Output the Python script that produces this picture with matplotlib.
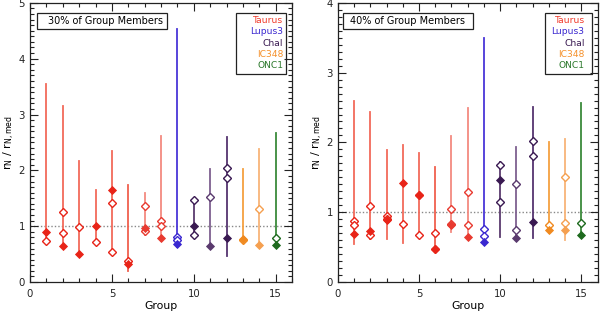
import matplotlib
matplotlib.use("Agg")
import matplotlib.pyplot as plt
from matplotlib.ticker import MultipleLocator

# ---------------- data ----------------
groups = list(range(1, 16))

hi30 = [3.54, 3.16, 2.17, 1.65, 2.35, 1.73, 1.59, 2.61, 4.53, 1.47, 2.02, 2.60, 2.03, 2.38, 2.67]
lo30 = [0.69, 0.61, 0.49, 0.68, 0.50, 0.19, 0.84, 0.73, 0.62, 0.84, 0.62, 0.46, 0.72, 0.63, 0.64]
filled30 = [0.89, 0.65, 0.51, 1.00, 1.64, 0.33, 0.96, 0.78, 0.68, 1.00, 0.65, 0.78, 0.77, 0.66, 0.66]
open30 = [[0.74], [1.26, 0.87], [0.98], [0.71], [1.42, 0.53], [0.37], [1.36, 0.91],
          [1.09, 1.00], [0.81, 0.75], [1.47, 0.84], [1.52], [2.04, 1.86], [0.75], [1.30], [0.78]]

hi40 = [2.60, 2.43, 1.89, 1.97, 1.85, 1.65, 2.09, 2.49, 3.50, 1.72, 1.93, 2.51, 2.01, 2.05, 2.57]
lo40 = [0.55, 0.62, 0.62, 0.56, 0.66, 0.45, 0.71, 0.62, 0.55, 0.65, 0.61, 0.63, 0.70, 0.60, 0.64]
filled40 = [0.69, 0.73, 0.89, 1.42, 1.25, 0.48, 0.82, 0.64, 0.58, 1.46, 0.63, 0.86, 0.74, 0.74, 0.67]
open40 = [[0.87, 0.82], [1.09, 0.68], [0.94, 0.91], [0.83], [1.25, 0.68], [0.70, 0.47], [1.05, 0.83],
          [1.29, 0.82], [0.76, 0.66], [1.67, 1.14], [1.40, 0.74], [2.02, 1.81], [0.82], [1.51, 0.85], [0.84]]

regions = ["Taurus", "Lupus3", "ChaI", "IC348", "ONC1"]
panel_titles = ["30% of Group Members", "40% of Group Members"]

# ---------------- styles ----------------
region_colors = ["#f03a2a", "#3a28d0", "#3a1a52", "#f5902a", "#2e7a2e"]
line_colors = ["#f26a5a", "#f26a5a", "#f26a5a", "#f26a5a", "#f26a5a", "#f0604e", "#f38a80", "#f38a80",
               "#4a36d8", "#5a3a6e", "#7e6090", "#553470", "#f5a040", "#f8b478", "#3a8a3a"]
mark_colors = ["#e82418", "#e82418", "#e82418", "#e82418", "#e82418", "#e82418", "#e83a30", "#e83a30",
               "#3a28d0", "#3a1a52", "#5a3a6e", "#3a1a52", "#f08a20", "#f5a050", "#1e6a1e"]

# per-panel box placements (axes fractions)
title_box = [(0.027, 0.523, 0.069), (0.019, 0.519, 0.046)]
legend_box = [(0.786, 0.977, 0.966), (0.796, 0.977, 0.950)]

fig = plt.figure(figsize=(6.0, 3.12), dpi=100)
axes = [fig.add_axes([0.050, 0.096, 0.437, 0.895]),
        fig.add_axes([0.563, 0.096, 0.433, 0.895])]

datasets = [(hi30, lo30, filled30, open30, 5), (hi40, lo40, filled40, open40, 4)]

for p, (ax, (hi, lo, filled, opn, ymax), title) in enumerate(zip(axes, datasets, panel_titles)):
    ax.axhline(1.0, color="#888888", lw=1.0, ls=(0, (1, 1.5)), zorder=1)
    for i, g in enumerate(groups):
        ax.plot([g, g], [lo[i], hi[i]], color=line_colors[i], lw=1.3, zorder=2)
        for v in opn[i]:
            ax.plot(g, v, marker="D", ms=4.0, mfc="white", mec=mark_colors[i], mew=1.0, zorder=3)
        ax.plot(g, filled[i], marker="D", ms=3.8, mfc=mark_colors[i], mec=mark_colors[i], mew=0.6, zorder=4)

    ax.set_xlim(0, 16)
    ax.set_ylim(0, ymax)
    ax.xaxis.set_major_locator(MultipleLocator(5))
    ax.xaxis.set_minor_locator(MultipleLocator(1))
    ax.yaxis.set_major_locator(MultipleLocator(1))
    ax.yaxis.set_minor_locator(MultipleLocator(0.1))
    ax.tick_params(which="both", direction="in", top=True, right=True, colors="#222222",
                   labelsize=7.3, width=0.8)
    ax.tick_params(which="major", length=6)
    ax.tick_params(which="minor", length=3)
    ax.tick_params(axis="x", pad=5)
    ax.tick_params(axis="y", pad=3.6)
    for s in ax.spines.values():
        s.set_linewidth(0.9)
        s.set_color("#222222")
    ax.set_xlabel("Group", fontsize=7.8, labelpad=1.5)
    ax.set_ylabel(r"$\mathregular{r_N\ /\ r_{N,med}}$", fontsize=8, labelpad=1)

    bx0, bx1, tx = title_box[p]
    ax.add_patch(plt.Rectangle((bx0, 0.907), bx1 - bx0, 0.057, transform=ax.transAxes,
                               fc="white", ec="#222222", lw=0.9, zorder=5))
    ax.text(tx, 0.936, title, transform=ax.transAxes, fontsize=7, va="center", ha="left", zorder=6)

    lx0, lx1, ltx = legend_box[p]
    ax.add_patch(plt.Rectangle((lx0, 0.746), lx1 - lx0, 0.218, transform=ax.transAxes,
                               fill=False, ec="#222222", lw=0.9, zorder=5))
    for k, (name, c) in enumerate(zip(regions, region_colors)):
        ax.text(ltx, 0.936 - k * 0.04, name, transform=ax.transAxes, color=c,
                fontsize=6.6, ha="right", va="center", zorder=6)

fig.savefig("out.png", dpi=100)
